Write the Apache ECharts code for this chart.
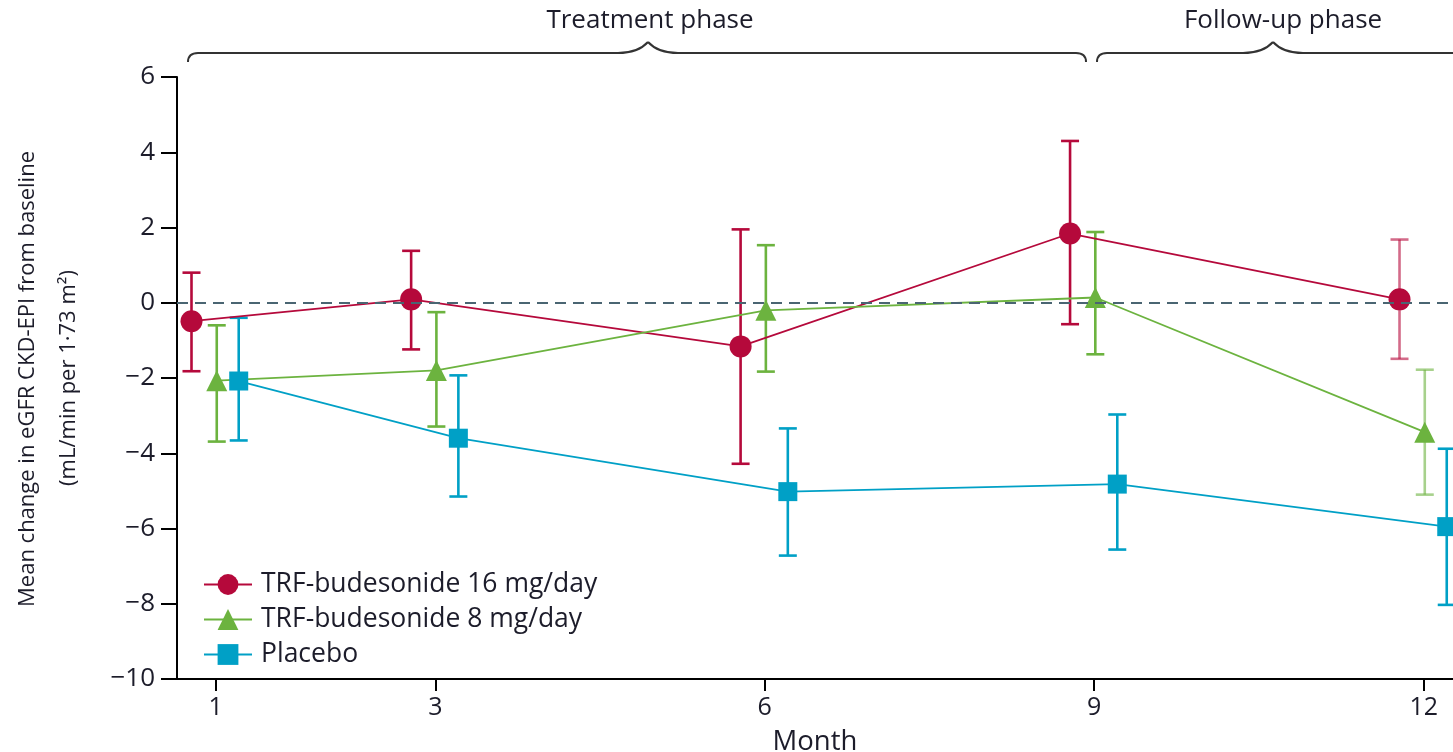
<!DOCTYPE html>
<html>
<head>
<meta charset="utf-8">
<title>eGFR change from baseline</title>
<script src="https://cdn.jsdelivr.net/npm/echarts@6/dist/echarts.min.js"></script>
<style>
  html, body { margin: 0; padding: 0; background: #fff; }
  #chart { width: 1453px; height: 752px; }
</style>
</head>
<body>
<div id="chart"></div>
<script>
  // months of measurement
  const months = [1, 3, 6, 9, 12]

  // TRF-budesonide 16 mg/day
  const trf16Mean = [-0.49, 0.09, -1.16, 1.84, 0.09]
  const trf16Upper = [0.80, 1.38, 1.95, 4.30, 1.68]
  const trf16Lower = [-1.82, -1.24, -4.28, -0.57, -1.49]

  // TRF-budesonide 8 mg/day
  const trf8Mean = [-2.07, -1.80, -0.20, 0.14, -3.44]
  const trf8Upper = [-0.60, -0.25, 1.53, 1.88, -1.78]
  const trf8Lower = [-3.69, -3.29, -1.83, -1.37, -5.10]

  // Placebo
  const placeboMean = [-2.08, -3.60, -5.02, -4.82, -5.95]
  const placeboUpper = [-0.40, -1.93, -3.34, -2.97, -3.88]
  const placeboLower = [-3.66, -5.15, -6.72, -6.56, -8.03]

  const FONT = 'Open Sans'
  const TEXT = '#1c1c2a'

  const groups = [
    { name: 'TRF-budesonide 16 mg/day', color: '#b5093b', symbol: 'circle', size: 22, dodge: -0.22, mean: trf16Mean, up: trf16Upper, lo: trf16Lower, fadeLast: true },
    { name: 'TRF-budesonide 8 mg/day', color: '#6cb33f', symbol: 'triangle', size: 21, dodge: 0.01, mean: trf8Mean, up: trf8Upper, lo: trf8Lower, fadeLast: true },
    { name: 'Placebo', color: '#00a0c6', symbol: 'rect', size: 19, dodge: 0.21, mean: placeboMean, up: placeboUpper, lo: placeboLower, fadeLast: false }
  ]

  const chart = echarts.init(document.getElementById('chart'))

  function errorBarSeries (g) {
    return {
      name: g.name + ' error',
      type: 'custom',
      z: 2,
      silent: true,
      data: months.map((m, i) => [m + g.dodge, g.lo[i], g.up[i]]),
      renderItem (params, api) {
        const x = api.value(0)
        const lo = api.coord([x, api.value(1)])
        const hi = api.coord([x, api.value(2)])
        const half = 9
        const faded = g.fadeLast && params.dataIndex === months.length - 1
        const style = { stroke: g.color, lineWidth: 2.6, opacity: faded ? 0.6 : 1 }
        return {
          type: 'group',
          children: [
            { type: 'line', shape: { x1: lo[0], y1: lo[1], x2: hi[0], y2: hi[1] }, style },
            { type: 'line', shape: { x1: hi[0] - half, y1: hi[1], x2: hi[0] + half, y2: hi[1] }, style },
            { type: 'line', shape: { x1: lo[0] - half, y1: lo[1], x2: lo[0] + half, y2: lo[1] }, style }
          ]
        }
      }
    }
  }

  function lineSeries (g) {
    return {
      name: g.name,
      type: 'line',
      z: 3,
      symbol: g.symbol,
      symbolSize: g.size,
      showAllSymbol: true,
      color: g.color,
      lineStyle: { color: g.color, width: 1.8 },
      itemStyle: { color: g.color },
      emphasis: { disabled: true },
      data: months.map((m, i) => [m + g.dodge, g.mean[i]])
    }
  }

  // curly brace drawn from simple segments
  function brace (x1, xPeak, x2, yLine, yTop, yEnd, openRight) {
    const s = { fill: null, stroke: '#333', lineWidth: 2 }
    const parts = [
      { type: 'bezierCurve', shape: { x1: x1, y1: yEnd, x2: x1 + 10, y2: yLine, cpx1: x1, cpy1: yLine }, style: s },
      { type: 'line', shape: { x1: x1 + 10, y1: yLine, x2: xPeak - 30, y2: yLine }, style: s },
      { type: 'bezierCurve', shape: { x1: xPeak - 30, y1: yLine, x2: xPeak, y2: yTop, cpx1: xPeak - 10, cpy1: yLine }, style: s },
      { type: 'bezierCurve', shape: { x1: xPeak, y1: yTop, x2: xPeak + 30, y2: yLine, cpx1: xPeak + 10, cpy1: yLine }, style: s }
    ]
    if (openRight) {
      parts.push({ type: 'line', shape: { x1: xPeak + 30, y1: yLine, x2: x2, y2: yLine }, style: s })
    } else {
      parts.push({ type: 'line', shape: { x1: xPeak + 30, y1: yLine, x2: x2 - 10, y2: yLine }, style: s })
      parts.push({ type: 'bezierCurve', shape: { x1: x2 - 10, y1: yLine, x2: x2, y2: yEnd, cpx1: x2, cpy1: yLine }, style: s })
    }
    return { type: 'group', silent: true, children: parts }
  }

  const series = []
  // dashed zero reference line
  series.push({
    type: 'line',
    name: 'zero',
    z: 1,
    data: [],
    markLine: {
      silent: true,
      symbol: 'none',
      label: { show: false },
      lineStyle: { color: '#4a6572', type: [11, 7], width: 2 },
      data: [{ yAxis: 0 }]
    }
  })
  groups.forEach(g => series.push(errorBarSeries(g)))
  groups.forEach(g => series.push(lineSeries(g)))

  chart.setOption({
    animation: false,
    backgroundColor: '#ffffff',
    textStyle: { fontFamily: FONT },
    grid: { left: 177, right: 0, top: 77, bottom: 73, outerBoundsMode: 'none' },
    legend: {
      orient: 'vertical',
      left: 203,
      top: 571,
      padding: 0,
      itemWidth: 48,
      itemHeight: 26,
      itemGap: 8,
      selectedMode: false,
      data: groups.map(g => g.name),
      textStyle: { fontFamily: FONT, fontSize: 26.5, color: TEXT, padding: [0, 0, 0, 4] }
    },
    xAxis: {
      type: 'value',
      min: 0.648,
      max: 12.267,
      splitLine: { show: false },
      axisLine: { onZero: false, lineStyle: { color: '#000', width: 2 } },
      axisTick: { show: true, customValues: months, length: 12, lineStyle: { color: '#000', width: 2 } },
      axisLabel: { customValues: months, fontFamily: FONT, fontSize: 25, color: TEXT, margin: 16 },
      name: 'Month',
      nameLocation: 'middle',
      nameGap: 49,
      nameTextStyle: { fontFamily: FONT, fontSize: 27.5, color: TEXT }
    },
    yAxis: {
      type: 'value',
      min: -10,
      max: 6,
      interval: 2,
      splitLine: { show: false },
      axisLine: { show: true, lineStyle: { color: '#000', width: 2 } },
      axisTick: { show: true, length: 16, lineStyle: { color: '#000', width: 2 } },
      axisLabel: {
        fontFamily: FONT,
        fontSize: 26,
        color: TEXT,
        margin: 22,
        formatter: v => (v < 0 ? '\u2212' + Math.abs(v) : String(v))
      }
    },
    graphic: [
      {
        type: 'text',
        x: 28,
        y: 379,
        rotation: Math.PI / 2,
        style: {
          text: 'Mean change in eGFR CKD-EPI from baseline',
          font: '22px "Open Sans"',
          fill: TEXT,
          align: 'center',
          verticalAlign: 'middle'
        }
      },
      {
        type: 'text',
        x: 69,
        y: 378,
        rotation: Math.PI / 2,
        style: {
          text: '(mL/min per 1\u00b773 m\u00b2)',
          font: '22px "Open Sans"',
          fill: TEXT,
          align: 'center',
          verticalAlign: 'middle'
        }
      },
      {
        type: 'text',
        x: 650,
        y: 21,
        style: { text: 'Treatment phase', font: '26px "Open Sans"', fill: TEXT, align: 'center', verticalAlign: 'middle' }
      },
      {
        type: 'text',
        x: 1283,
        y: 21,
        style: { text: 'Follow-up phase', font: '26px "Open Sans"', fill: TEXT, align: 'center', verticalAlign: 'middle' }
      },
      brace(188, 648, 1086, 53, 42, 62, false),
      brace(1097, 1273, 1460, 53, 42, 62, true)
    ],
    series
  })
</script>
</body>
</html>
